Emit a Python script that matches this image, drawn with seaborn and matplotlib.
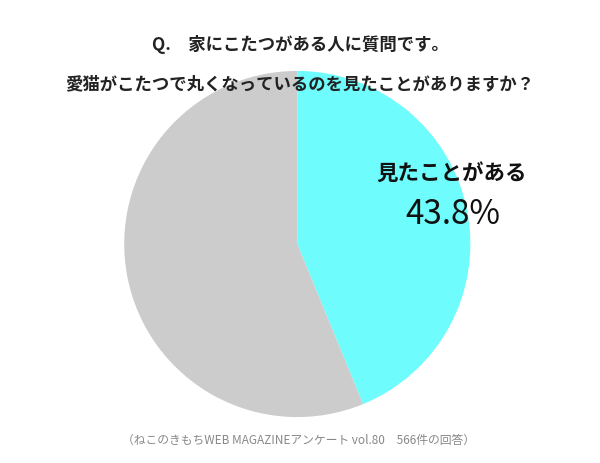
import matplotlib
matplotlib.use("Agg")
import matplotlib.pyplot as plt
import seaborn as sns

sns.set_style("white")
plt.rcParams['font.family'] = ['Noto Sans CJK JP', 'DejaVu Sans']

# データ
labels = ['見たことがある', 'ない']
values = [43.8, 56.2]
colors = ['#6ffcfd', '#cccccc']

fig = plt.figure(figsize=(6, 4.64), dpi=100)
ax = fig.add_axes([0.207, 0.099, 0.577, 0.746])
ax.pie(values, colors=colors, startangle=90, counterclock=False,
       wedgeprops=dict(linewidth=0))
ax.set_xlim(-1, 1)
ax.set_ylim(-1, 1)
ax.set_aspect('equal')

fig.text(0.5, 0.905, 'Q.　家にこたつがある人に質問です。', ha='center', va='center',
         fontsize=12.5, fontweight='bold', color='#222222')
fig.text(0.5, 0.818, '愛猫がこたつで丸くなっているのを見たことがありますか？', ha='center', va='center',
         fontsize=12.5, fontweight='bold', color='#222222')

fig.text(0.752, 0.625, labels[0], ha='center', va='center', fontsize=15.5, fontweight='bold', color='#111111')
fig.text(0.755, 0.538, f'{values[0]}%', ha='center', va='center', fontsize=24, color='#111111')

fig.text(0.497, 0.05, '（ねこのきもちWEB MAGAZINEアンケート vol.80　566件の回答）', ha='center', va='center',
         fontsize=8.5, color='#888888')

fig.savefig('out.png', dpi=100, facecolor='white')
